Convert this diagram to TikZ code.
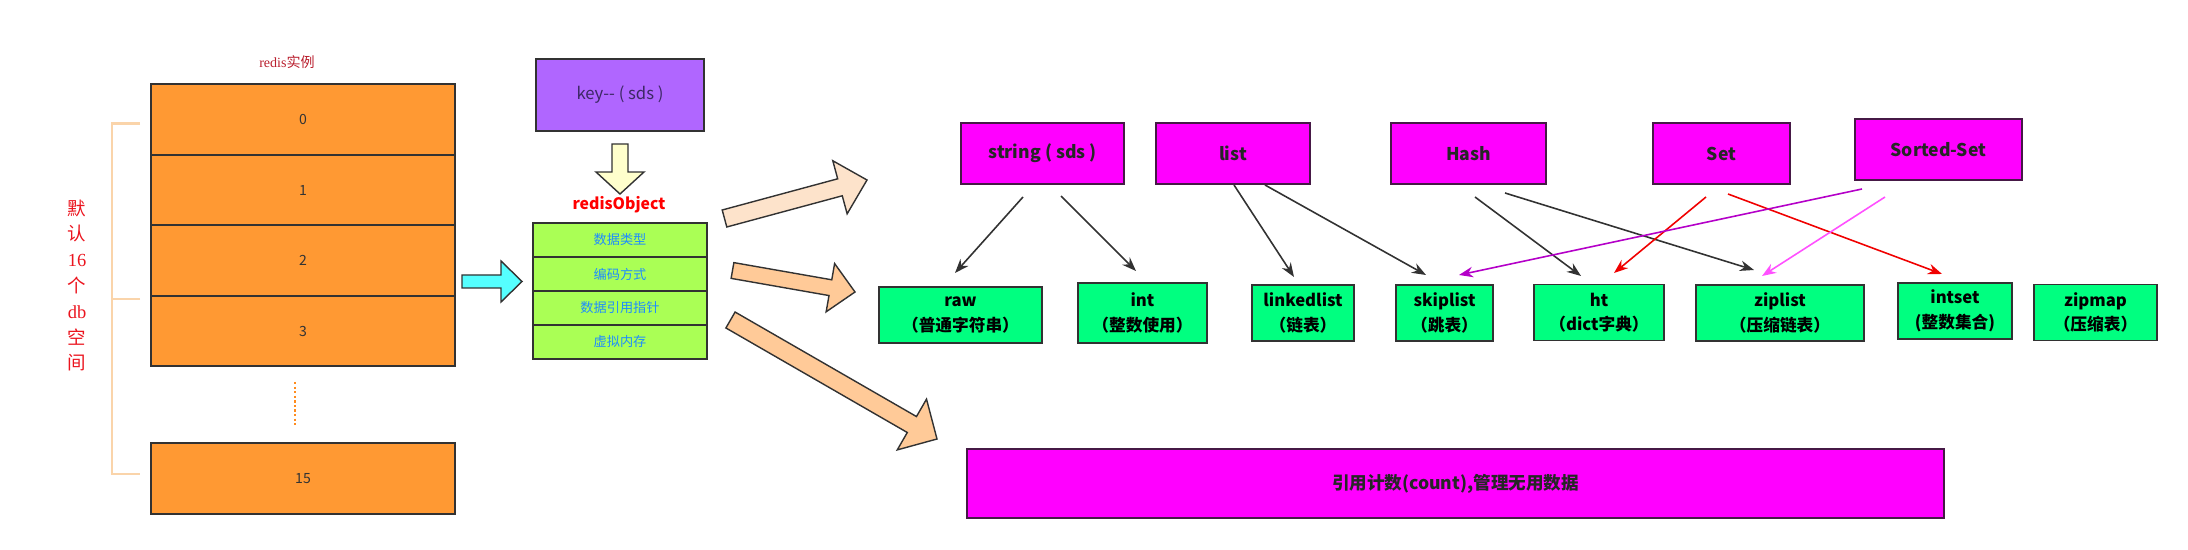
\documentclass[tikz,border=0pt]{standalone}
\usepackage{fontspec}
\setmainfont{Noto Sans CJK SC}
\newfontfamily\serifface{Liberation Serif}
\usetikzlibrary{calc, arrows.meta}
\definecolor{dbOrange}{RGB}{255,153,51}
\definecolor{keyPurple}{RGB}{176,102,255}
\definecolor{fieldGreen}{RGB}{170,255,85}
\definecolor{fieldBlue}{RGB}{30,140,255}
\definecolor{encGreen}{RGB}{0,255,128}
\definecolor{typeMagenta}{RGB}{255,0,255}
\definecolor{typeBorder}{RGB}{70,25,70}
\definecolor{lineGrey}{RGB}{50,50,50}
\definecolor{setRed}{RGB}{240,0,0}
\definecolor{zsetPurple}{RGB}{180,0,200}
\definecolor{zsetPink}{RGB}{255,80,255}
\definecolor{peachLight}{RGB}{253,227,203}
\definecolor{peach}{RGB}{255,202,152}
\definecolor{arrowCyan}{RGB}{85,255,255}
\definecolor{arrowYellow}{RGB}{255,255,204}
\definecolor{bracketTan}{RGB}{250,212,170}
\definecolor{dotOrange}{RGB}{255,140,30}
\definecolor{darkRed}{RGB}{185,30,45}
\definecolor{vertRed}{RGB}{235,20,30}
\definecolor{keyText}{RGB}{60,40,100}
\newcommand{\fatarrow}[6][]{%
	\coordinate (FatBase) at ($(#3)!#6!(#2)$);
	\draw [#1] ($(#2)!#4!90:(#3)$) -- ($(FatBase)!#4!90:(#3)$) -- ($(FatBase)!#5!90:(#3)$) -- (#3)
		-- ($(FatBase)!#5!-90:(#3)$) -- ($(FatBase)!#4!-90:(#3)$) -- ($(#2)!#4!-90:(#3)$) -- cycle;}
\tikzstyle{db} = [draw=lineGrey, line width=1pt, fill=dbOrange, minimum width=6.08cm, minimum height=1.41cm,
                  font=\fontsize{8}{8}\selectfont, text=black!80]
\tikzstyle{field} = [draw=lineGrey, line width=1pt, fill=fieldGreen, minimum width=3.48cm, minimum height=0.68cm,
                     text=fieldBlue, font=\fontsize{7.5}{8}\selectfont]
\tikzstyle{type} = [draw=typeBorder, line width=1pt, fill=typeMagenta, minimum height=1.22cm,
                    font=\bfseries\fontsize{10}{12}\selectfont, text=black!85]
\tikzstyle{enc} = [draw=lineGrey, line width=1pt, fill=encGreen, minimum height=1.12cm, align=center,
                   font=\bfseries\fontsize{9.5}{14}\selectfont]
\tikzstyle{link} = [line width=0.9pt, -{Stealth[length=8pt, width=6pt]}]
\tikzstyle{fat} = [draw=lineGrey, line width=0.8pt, line join=miter]

\begin{document}
\begin{tikzpicture}[x=0.02cm, y=-0.02cm]
	\useasboundingbox (0, 0) rectangle (2188, 550);

	% redis instance
	\node (Title) [text=darkRed, font=\fontsize{8}{8}\selectfont] at (287, 62) {{\serifface redis}实例};
	\node (Db0) [db] at (303, 119.5) {0};
	\node (Db1) [db] at (303, 190) {1};
	\node (Db2) [db] at (303, 260.5) {2};
	\node (Db3) [db] at (303, 331) {3};
	\node (Db15) [db] at (303, 478.5) {15};

	\coordinate (DotTop) at (295, 382);
	\coordinate (DotBot) at (295, 425);
	\draw [draw=dotOrange, line width=1.4pt, dash pattern=on 1.3pt off 1.3pt] (DotTop) -- (DotBot);

	% 16 db bracket
	\coordinate (BrTop) at (140, 123.5);
	\coordinate (BrMid) at (140, 299);
	\coordinate (BrBot) at (140, 474);
	\draw [bracketTan, line width=1.2pt] (BrTop) -- ++(-28, 0) |- (BrBot);
	\draw [bracketTan, line width=1.2pt] (BrMid) -- ++(-28, 0);
	\node (Default) [text=vertRed, align=center, font=\fontsize{10.5}{14.7}\selectfont] at (77, 285.5)
		{默\\认\\{\serifface 16}\\个\\{\serifface db}\\空\\间};

	% key and redisObject
	\node (Key) [draw=lineGrey, line width=1pt, fill=keyPurple, minimum width=3.36cm, minimum height=1.44cm,
		text=keyText, font=\fontsize{9.5}{10}\selectfont] at (620, 95) {key-{}- ( sds )};
	\coordinate (KeyArrowTail) at (620, 144);
	\coordinate (KeyArrowTip) at (620, 194);
	\fatarrow[fat, fill=arrowYellow]{KeyArrowTail}{KeyArrowTip}{0.16cm}{0.48cm}{0.44cm}

	\node (ObjTitle) [text=red, font=\bfseries\fontsize{9}{10}\selectfont] at (619, 205) {redisObject};
	\node (Type) [field] at (620, 240) {数据类型};
	\node (Encoding) [field] at (620, 274) {编码方式};
	\node (Ptr) [field] at (620, 308) {数据引用指针};
	\node (Vm) [field] at (620, 342) {虚拟内存};

	\coordinate (DbArrowTail) at (462, 281.5);
	\coordinate (DbArrowTip) at (522, 281.5);
	\fatarrow[fat, fill=arrowCyan]{DbArrowTail}{DbArrowTip}{0.13cm}{0.41cm}{0.42cm}

	% fat arrows to the right
	\coordinate (TypeArrowTail) at (724.5, 218.5);
	\coordinate (TypeArrowTip) at (867, 180);
	\fatarrow[fat, fill=peachLight]{TypeArrowTail}{TypeArrowTip}{0.176cm}{0.55cm}{0.56cm}
	\coordinate (EncArrowTail) at (732.5, 270.5);
	\coordinate (EncArrowTip) at (855, 292);
	\fatarrow[fat, fill=peach]{EncArrowTail}{EncArrowTip}{0.16cm}{0.49cm}{0.5cm}
	\coordinate (RefArrowTail) at (730.5, 320);
	\coordinate (RefArrowTip) at (937, 439);
	\fatarrow[fat, fill=peach]{RefArrowTail}{RefArrowTip}{0.184cm}{0.586cm}{0.58cm}

	% data types
	\node (String) [type, minimum width=3.26cm] at (1042.5, 153.5) {string ( sds )};
	\node (List) [type, minimum width=3.08cm] at (1233, 153.5) {list};
	\node (Hash) [type, minimum width=3.1cm] at (1468.5, 153.5) {Hash};
	\node (Set) [type, minimum width=2.74cm] at (1721.5, 153.5) {Set};
	\node (ZSet) [type, minimum width=3.34cm] at (1938.5, 149.5) {Sorted-Set};

	% encodings
	\node (Raw) [enc, minimum width=3.26cm] at (960.5, 315) {raw\\（普通字符串）};
	\node (Int) [enc, minimum width=2.58cm, minimum height=1.2cm] at (1142.5, 313) {int\\（整数使用）};
	\node (Linked) [enc, minimum width=2.04cm] at (1303, 313) {linkedlist\\（链表）};
	\node (Skip) [enc, minimum width=1.94cm] at (1444.5, 313) {skiplist\\（跳表）};
	\node (HT) [enc, minimum width=2.6cm] at (1599, 312.5) {ht\\（dict字典）};
	\node (Zip) [enc, minimum width=3.36cm] at (1780, 313) {ziplist\\（压缩链表）};
	\node (IntSet) [enc, minimum width=2.28cm] at (1955, 311) {intset\\(整数集合)};
	\node (ZipMap) [enc, minimum width=2.46cm] at (2095.5, 312.5) {zipmap\\（压缩表）};

	\node (Ref) [type, minimum width=19.54cm, minimum height=1.38cm] at (1455.5, 483.5) {引用计数(count),管理无用数据};

	% string
	\coordinate (StrOutA) at (1023, 197);
	\coordinate (RawIn) at (955, 273);
	\draw [link, lineGrey] (StrOutA) -- (RawIn);
	\coordinate (StrOutB) at (1061, 196);
	\coordinate (IntIn) at (1136, 271);
	\draw [link, lineGrey] (StrOutB) -- (IntIn);

	% list
	\coordinate (ListOutA) at (1234, 185);
	\coordinate (LinkedIn) at (1294, 277);
	\draw [link, lineGrey] (ListOutA) -- (LinkedIn);
	\coordinate (ListOutB) at (1265, 185);
	\coordinate (SkipInA) at (1426, 275);
	\draw [link, lineGrey] (ListOutB) -- (SkipInA);

	% hash
	\coordinate (HashOutA) at (1475, 197);
	\coordinate (HTInA) at (1581, 276);
	\draw [link, lineGrey] (HashOutA) -- (HTInA);
	\coordinate (HashOutB) at (1505, 193);
	\coordinate (ZipInA) at (1754, 270);
	\draw [link, lineGrey] (HashOutB) -- (ZipInA);

	% set
	\coordinate (SetOutA) at (1706, 197);
	\coordinate (HTInB) at (1614, 273);
	\draw [link, setRed] (SetOutA) -- (HTInB);
	\coordinate (SetOutB) at (1728, 194);
	\coordinate (IntSetIn) at (1942, 274);
	\draw [link, setRed] (SetOutB) -- (IntSetIn);

	% sorted set
	\coordinate (ZSetOutA) at (1862, 189);
	\coordinate (SkipInB) at (1459, 275);
	\draw [link, zsetPurple] (ZSetOutA) -- (SkipInB);
	\coordinate (ZSetOutB) at (1885, 197);
	\coordinate (ZipInB) at (1762, 276);
	\draw [link, zsetPink] (ZSetOutB) -- (ZipInB);
\end{tikzpicture}
\end{document}
